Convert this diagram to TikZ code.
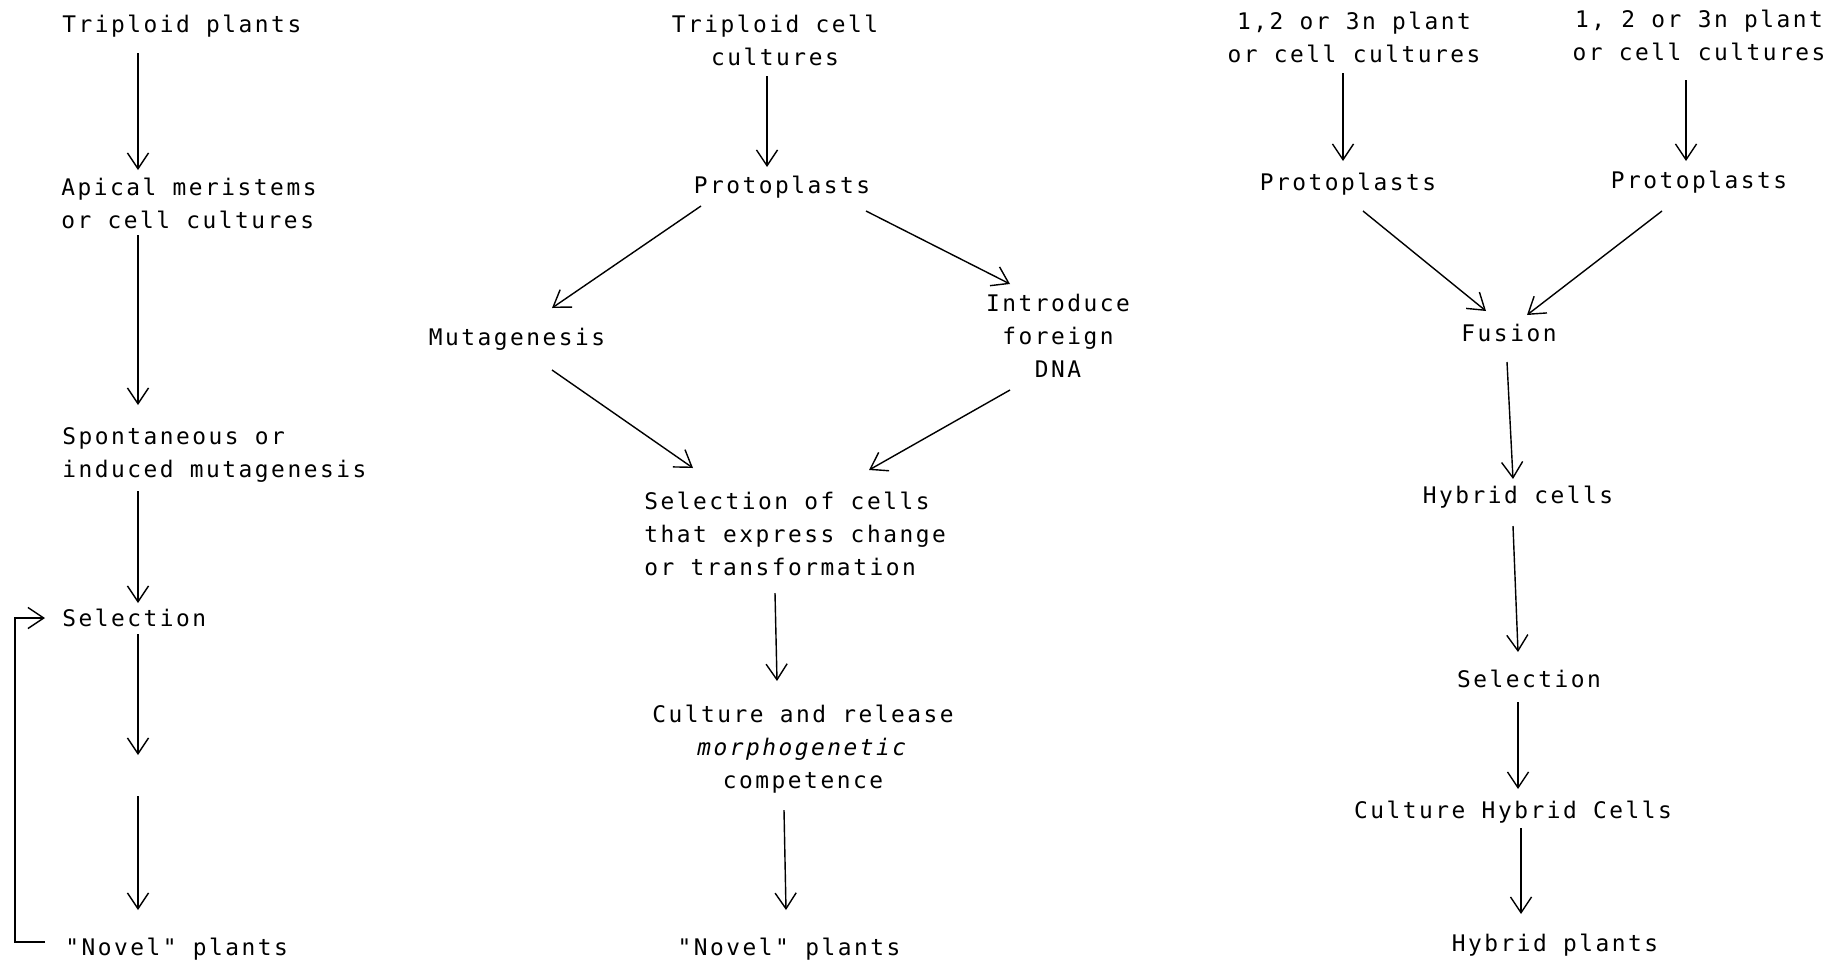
\documentclass[tikz,border=0pt]{standalone}
\usepackage{fontspec}
\newfontfamily\plotfont[LetterSpace=11]{DejaVu Sans Mono}
\usetikzlibrary{arrows.meta,calc}
\begin{document}
\begin{tikzpicture}[x=0.02cm,y=-0.02cm,
  lbl/.style={inner sep=0pt,font={\plotfont\fontsize{13}{18.7}\selectfont}},
  arr/.style={-{Straight Barb[length=9pt,width=12pt]},line width=0.8pt}]
\fill[white] (0,0) rectangle (1842,964);
\useasboundingbox (0,0) rectangle (1842,964);
% left column
\node[lbl,anchor=west] (L1) at (62,26) {Triploid plants};
\node[lbl,anchor=west,align=left] (L2) at (61,203) {Apical meristems\\or cell cultures};
\node[lbl,anchor=west,align=left] (L3) at (62,455) {Spontaneous or\\induced mutagenesis};
\node[lbl,anchor=west] (L4) at (62,618) {Selection};
\node[lbl,anchor=west] (L5) at (65,949) {"Novel" plants};
\coordinate (Lx) at (138,0);
\coordinate (G1) at (138,755);
\coordinate (G2) at (138,796);
% middle column
\node[lbl,align=center] (M1) at (775,40) {Triploid cell\\cultures};
\node[lbl] (M2) at (782,187) {Protoplasts};
\node[lbl] (M3) at (517,339) {Mutagenesis};
\node[lbl,align=center] (M4) at (1058,336) {Introduce\\foreign\\DNA};
\node[lbl,anchor=west,align=left] (M5) at (644,534) {Selection of cells\\that express change\\or transformation};
\node[lbl,align=center] (M6) at (803,749) {Culture and release\\\textit{morphogenetic}\\competence};
\node[lbl] (M7) at (789,949) {"Novel" plants};
% right column
\node[lbl,align=center] (R1) at (1354,37) {1,2 or 3n plant\\or cell cultures};
\node[lbl,align=center] (R2) at (1699,35) {1, 2 or 3n plant\\or cell cultures};
\node[lbl] (R3) at (1348,184) {Protoplasts};
\node[lbl] (R4) at (1699,182) {Protoplasts};
\node[lbl] (R5) at (1509,333) {Fusion};
\node[lbl] (R6) at (1518,497) {Hybrid cells};
\node[lbl] (R7) at (1529,679) {Selection};
\node[lbl] (R8) at (1513,812) {Culture Hybrid Cells};
\node[lbl] (R9) at (1555,945) {Hybrid plants};
% left arrows
\draw[arr] ($(L1.west -| Lx)+(0,27)$) -- ($(L2.west -| Lx)+(0,-33)$);
\draw[arr] ($(L2.west -| Lx)+(0,32)$) -- ($(L3.west -| Lx)+(0,-50)$);
\draw[arr] ($(L3.west -| Lx)+(0,36)$) -- ($(L4.west -| Lx)+(0,-15)$);
\draw[arr] ($(L4.west -| Lx)+(0,16)$) -- (G1);
\draw[arr] (G2) -- ($(L5.west -| Lx)+(0,-39)$);
\draw[arr] ($(L5.west)+(-20,-7)$) -- ++(-30,0) |- ($(L4.west)+(-17,0)$);
% middle arrows
\draw[arr] ($(M1)+(-8,36)$) -- ($(M2)+(-15,-20)$);
\draw[arr] ($(M2)+(-81,19)$) -- ($(M3)+(35,-31)$);
\draw[arr] ($(M2)+(84,24)$) -- ($(M4)+(-48,-52)$);
\draw[arr] ($(M3)+(35,31)$) -- ($(M5.west)+(49,-66)$);
\draw[arr] ($(M4)+(-48,54)$) -- ($(M5.west)+(225,-64)$);
\draw[arr] ($(M5.west)+(131,59)$) -- ($(M6)+(-26,-68)$);
\draw[arr] ($(M6)+(-19,61)$) -- ($(M7)+(-3,-39)$);
% right arrows
\draw[arr] ($(R1)+(-11,36)$) -- ($(R3)+(-5,-23)$);
\draw[arr] ($(R2)+(-13,45)$) -- ($(R4)+(-13,-21)$);
\draw[arr] ($(R3)+(15,27)$) -- ($(R5)+(-23,-22)$);
\draw[arr] ($(R4)+(-37,29)$) -- ($(R5)+(18,-18)$);
\draw[arr] ($(R5)+(-2,29)$) -- ($(R6)+(-5,-18)$);
\draw[arr] ($(R6)+(-5,29)$) -- ($(R7)+(-11,-27)$);
\draw[arr] ($(R7)+(-11,23)$) -- ($(R8)+(5,-23)$);
\draw[arr] ($(R8)+(8,16)$) -- ($(R9)+(-34,-31)$);
\end{tikzpicture}
\end{document}
